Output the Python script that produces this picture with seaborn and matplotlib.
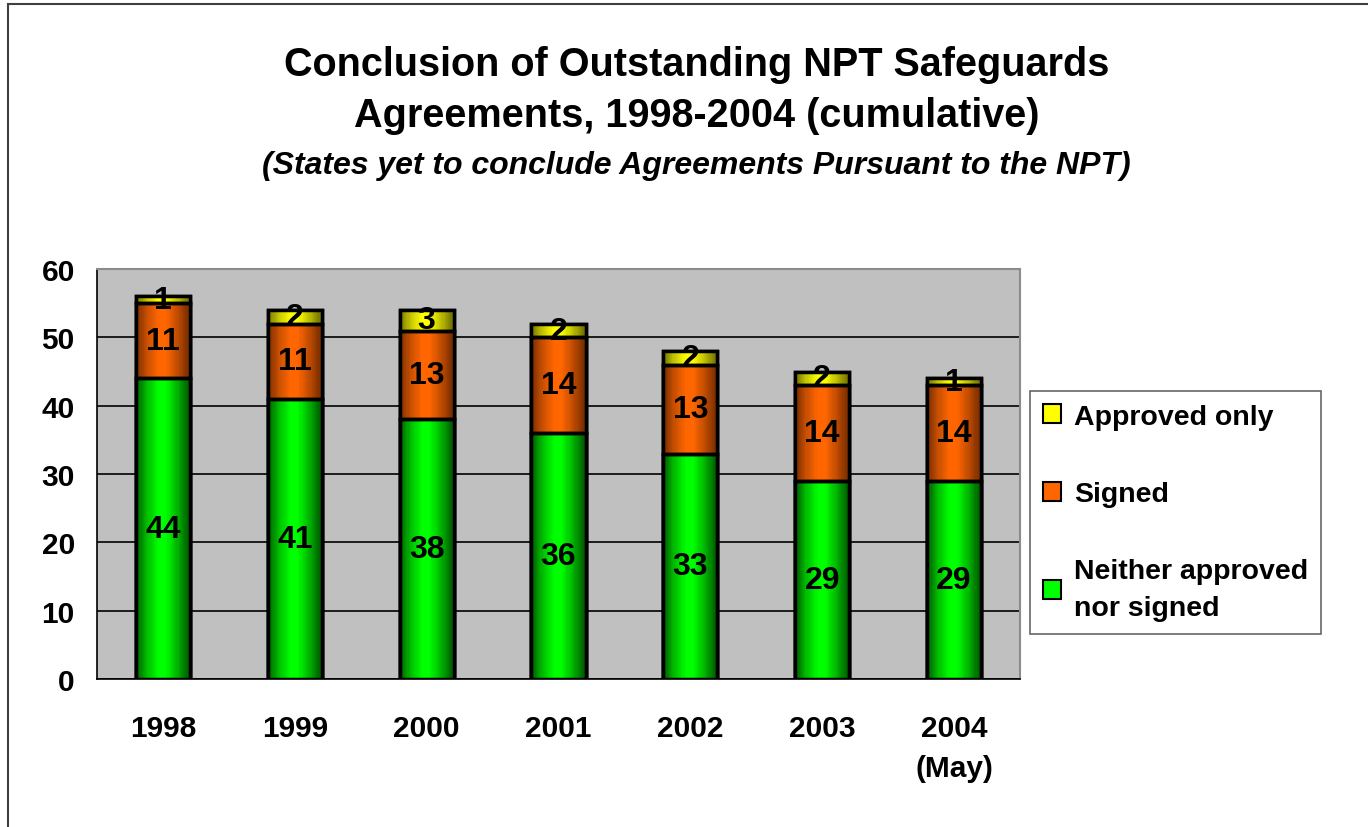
import numpy as np
import matplotlib
matplotlib.use("Agg")
import matplotlib.pyplot as plt
import seaborn as sns
import pandas as pd
from matplotlib.colors import LinearSegmentedColormap
from matplotlib.patches import Rectangle

years = ["1998", "1999", "2000", "2001", "2002", "2003", "2004\n(May)"]
neither = [44, 41, 38, 36, 33, 29, 29]
signed = [11, 11, 13, 14, 13, 14, 14]
approved = [1, 2, 3, 2, 2, 2, 1]
y_ticks = [0, 10, 20, 30, 40, 50, 60]

sns.set_theme(style="white")
plt.rcParams["font.family"] = ["Liberation Sans", "DejaVu Sans"]
plt.rcParams["font.weight"] = "bold"
plt.rcParams["text.color"] = "black"
plt.rcParams["xtick.color"] = "black"
plt.rcParams["ytick.color"] = "black"

df = pd.DataFrame({"year": years, "neither": neither, "signed": signed, "approved": approved})
df["top_signed"] = df["neither"] + df["signed"]
df["top_all"] = df["top_signed"] + df["approved"]

fig = plt.figure(figsize=(13.68, 8.28), dpi=100)
ax = fig.add_axes([0.0709, 0.1787, 0.6747, 0.4952])
ax.set_facecolor("#C0C0C0")

# (column for cumulative top, column for bottom, bright, dark, legend name)
series = [
    ("top_all", "top_signed", "#FFFF00", "#6A6A00", "Approved only"),
    ("top_signed", "neither", "#FF6600", "#702A00", "Signed"),
    ("neither", None, "#00FF00", "#005200", "Neither approved\nnor signed"),
]

for col, _, bright, _, _ in series:
    sns.barplot(data=df, x="year", y=col, color=bright, width=0.41,
                edgecolor="black", linewidth=2.5, saturation=1, ax=ax, zorder=3)

# horizontal gradient shading for each segment (dark edges, bright centre),
# drawn as thin vertical strips inside each seaborn bar
nstrip = 48
pos = (np.arange(nstrip) + 0.5) / nstrip
prof = np.interp(pos, [0.0, 0.2, 0.42, 0.55, 0.75, 1.0], [0.05, 0.6, 1.0, 1.0, 0.6, 0.0])
n = len(years)
bars = list(ax.patches)
for k, (col, below, bright, dark, name) in enumerate(series):
    cmap = LinearSegmentedColormap.from_list(name, [dark, bright])
    for i, patch in enumerate(bars[k * n:(k + 1) * n]):
        x0, w = patch.get_x(), patch.get_width()
        top = patch.get_y() + patch.get_height()
        bot = df[below].iloc[i] if below else 0
        sw = w / nstrip
        for j in range(nstrip):
            ax.add_patch(Rectangle((x0 + j * sw, bot), sw * 1.02, top - bot,
                                   facecolor=cmap(prof[j]), edgecolor="none",
                                   linewidth=0, zorder=3.5 + k * 0.1))
        ax.add_patch(Rectangle((x0, bot), w, top - bot, fill=False, edgecolor="black",
                               linewidth=2.5, zorder=4))

# value labels
for i in range(n):
    mids = [neither[i] / 2, neither[i] + signed[i] / 2, neither[i] + signed[i] + approved[i] / 2]
    for val, mid in zip([neither[i], signed[i], approved[i]], mids):
        ax.text(i, mid, str(val), ha="center", va="center",
                fontsize=23, fontweight="bold", zorder=5)

ax.set_xlim(-0.5, n - 0.5)
ax.set_ylim(0, 60)
ax.set_yticks(y_ticks)
ax.yaxis.grid(True, color="black", linewidth=1.2, zorder=1)
ax.set_axisbelow(True)
ax.set_xlabel("")
ax.set_ylabel("")
ax.set_xticks(range(n))
ax.set_xticklabels(years, fontsize=21.5, fontweight="bold", linespacing=1.55)
ax.tick_params(axis="x", length=0, pad=25)
ax.set_xticks(np.arange(-0.5, n, 1), minor=True)
ax.tick_params(axis="x", which="minor", length=8, width=1.2, color="black", direction="out")
ax.tick_params(axis="y", labelsize=21.5, length=8, width=1.2, color="black", direction="out", pad=8)
for lab in ax.get_yticklabels():
    lab.set_fontweight("bold")

for side in ["top", "right"]:
    ax.spines[side].set_color("#8C8C8C")
    ax.spines[side].set_linewidth(1.5)
for side in ["left", "bottom"]:
    ax.spines[side].set_color("black")
    ax.spines[side].set_linewidth(1.2)

# legend
handles = [Rectangle((0, 0), 1, 1, facecolor=s[2], edgecolor="black", linewidth=1.5)
           for s in series]
labels = [s[4] for s in series]
leg = fig.legend(handles, labels, loc="upper left", bbox_to_anchor=(1030 / 1368, 1 - 392 / 828),
                 frameon=True, fancybox=False, edgecolor="#404040", borderaxespad=0,
                 handlelength=0.65, handleheight=0.65, handletextpad=0.45,
                 labelspacing=1.8, borderpad=0.45, prop={"weight": "bold", "size": 20.5})
leg.get_frame().set_linewidth(1.2)
for t in leg.get_texts():
    t.set_linespacing(1.55)

# titles
fig.text(0.509, 0.891, "Conclusion of Outstanding NPT Safeguards\nAgreements, 1998-2004 (cumulative)",
         ha="center", va="center", fontsize=28.5, fontweight="bold", linespacing=1.45)
fig.text(0.509, 0.8, "(States yet to conclude Agreements Pursuant to the NPT)",
         ha="center", va="center", fontsize=23, fontweight="bold", style="italic")

# outer chart frame
fig.patches.append(Rectangle((8 / 1368, -0.1), 1.2, 1.1 - 5 / 828, transform=fig.transFigure,
                             fill=False, edgecolor="#404040", linewidth=1.5))

fig.savefig("out.png", dpi=100)
